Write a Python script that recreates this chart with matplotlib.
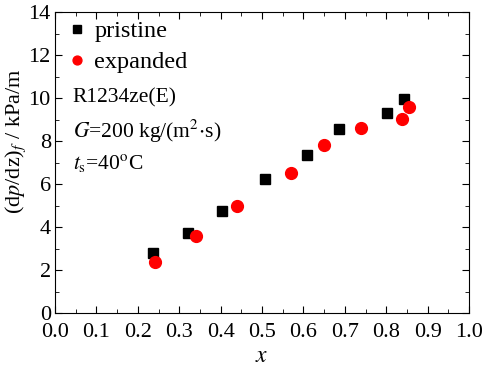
import matplotlib
matplotlib.use("Agg")
import matplotlib.pyplot as plt
from matplotlib.ticker import MultipleLocator

plt.rcParams['font.family'] = ['Liberation Serif', 'DejaVu Serif']
plt.rcParams['mathtext.fontset'] = 'stix'

# pristine tube
x_pristine = [0.237, 0.322, 0.404, 0.507, 0.608, 0.687, 0.803, 0.844]
dp_pristine = [2.78, 3.73, 4.76, 6.25, 7.37, 8.55, 9.28, 9.97]

# expanded tube
x_expanded = [0.241, 0.341, 0.440, 0.571, 0.649, 0.739, 0.838, 0.855]
dp_expanded = [2.39, 3.58, 4.96, 6.50, 7.80, 8.60, 9.02, 9.56]

fig = plt.figure(figsize=(4.84, 3.67), dpi=100)
ax = fig.add_axes([55/484, 1 - 313/367, 414/484, 301/367])

ax.plot(x_pristine, dp_pristine, 's', color='black', markersize=7.5, label='pristine')
ax.plot(x_expanded, dp_expanded, 'o', color='red', markersize=8.5, label='expanded')

ax.set_xlim(0, 1.0)
ax.set_ylim(0, 14)
ax.xaxis.set_major_locator(MultipleLocator(0.1))
ax.xaxis.set_minor_locator(MultipleLocator(0.05))
ax.yaxis.set_major_locator(MultipleLocator(2))
ax.yaxis.set_minor_locator(MultipleLocator(1))
ax.set_xticklabels([f"{v:.1f}" for v in ax.get_xticks()])
ax.tick_params(which='both', direction='in', top=True, right=True, labelsize=16)
ax.tick_params(which='major', length=5)
ax.tick_params(axis='x', which='major', pad=7)
ax.tick_params(axis='y', which='major', pad=3)
ax.tick_params(which='minor', length=3)

ax.set_xlabel(r'$\it{x}$', fontsize=17)
ax.set_ylabel(r'(d$\it{p}$/dz)$_{\it{f}}$ / kPa/m', fontsize=16)
ax.yaxis.set_label_coords(-27/414, 0.57)
ax.xaxis.set_label_coords(0.5, -0.11)

ax.legend(loc='upper left', frameon=False, fontsize=17.5, handletextpad=0.1,
          borderaxespad=0.0, labelspacing=0.37, markerscale=0.75,
          handlelength=1.2, bbox_to_anchor=(-0.005, 1.005))

ax.text(0.043, 0.715, 'R1234ze(E)', transform=ax.transAxes, fontsize=15.5, va='center')
ax.text(0.043, 0.602, r'$\it{G}$=200 kg/(m$^2$$\cdot$s)', transform=ax.transAxes, fontsize=15.5, va='center')
ax.text(0.043, 0.5, r'$\it{t}_{\rm s}$=40$^{\rm o}$C', transform=ax.transAxes, fontsize=15.5, va='center')

fig.savefig('out.png', dpi=100)
